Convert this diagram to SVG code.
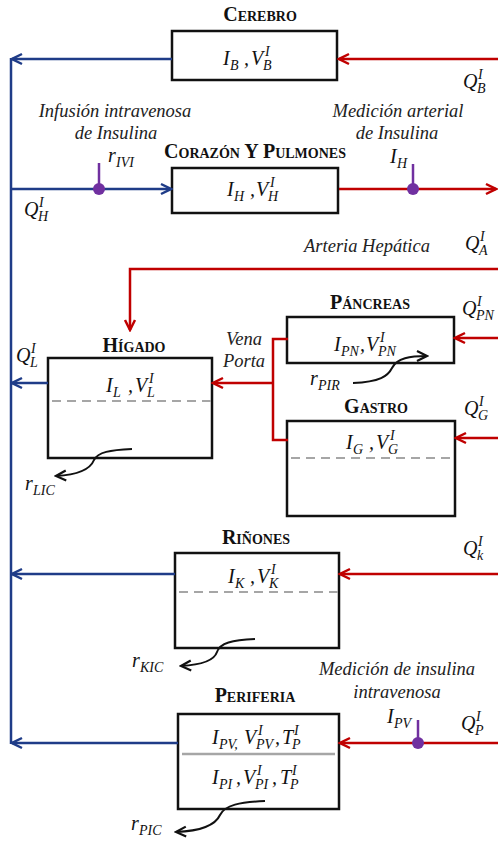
<svg xmlns="http://www.w3.org/2000/svg" width="498" height="843" viewBox="0 0 498 843">
<style>
.t{font-family:"Liberation Serif",serif;font-weight:bold;font-variant:small-caps;font-size:20px;text-anchor:middle;fill:#111}
.l{font-family:"Liberation Serif",serif;font-style:italic;font-size:18.5px;text-anchor:middle;fill:#222}
.m{font-family:"Liberation Serif",serif;font-style:italic;font-size:20px;fill:#111}
.s{font-size:14px}
.box{fill:#fff;stroke:#111;stroke-width:2.5}
.dash{stroke:#A6A6A6;stroke-width:2;stroke-dasharray:9 6;fill:none}
.div{stroke:#A6A6A6;stroke-width:2.5;fill:none}
.bl{stroke:#1F3C88;stroke-width:2.5;fill:none}
.rd{stroke:#C00000;stroke-width:2.5;fill:none}
.bk{stroke:#111;stroke-width:2;fill:none}
.pp{stroke:#7030A0;stroke-width:2.5}
.dot{fill:#7030A0}
</style>
<defs>
<marker id="ab" viewBox="-12 -7 14 14" refX="0" refY="0" markerWidth="14" markerHeight="14" orient="auto" markerUnits="userSpaceOnUse"><path d="M-10,-5 L0,0 L-10,5" fill="none" stroke="#1F3C88" stroke-width="2.5"/></marker>
<marker id="ar" viewBox="-12 -7 14 14" refX="0" refY="0" markerWidth="14" markerHeight="14" orient="auto" markerUnits="userSpaceOnUse"><path d="M-10,-5 L0,0 L-10,5" fill="none" stroke="#C00000" stroke-width="2.5"/></marker>
<marker id="ak" viewBox="-12 -7 14 14" refX="0" refY="0" markerWidth="14" markerHeight="14" orient="auto" markerUnits="userSpaceOnUse"><path d="M-10,-5 L0,0 L-10,5" fill="none" stroke="#111" stroke-width="2.2"/></marker>
</defs>
<rect width="498" height="843" fill="#fff"/>

<g id="cerebro">
<text class="t" x="260" y="21">Cerebro</text>
<rect class="box" x="172" y="31" width="165" height="49"/>
<text class="m"><tspan x="223" y="65">I</tspan><tspan class="s" x="230" y="70">B</tspan><tspan x="244" y="65">,</tspan><tspan x="251" y="65">V</tspan><tspan class="s" x="265" y="56">I</tspan><tspan class="s" x="263" y="70">B</tspan></text>
</g>

<g id="corazon">
<text class="t" x="255" y="158">Corazón Y Pulmones</text>
<rect class="box" x="172" y="168" width="166" height="45"/>
<text class="m"><tspan x="227" y="196">I</tspan><tspan class="s" x="234" y="201">H</tspan><tspan x="250" y="196">,</tspan><tspan x="256" y="196">V</tspan><tspan class="s" x="270" y="187">I</tspan><tspan class="s" x="268" y="201">H</tspan></text>
</g>

<g id="higado">
<text class="t" x="134" y="352">Hígado</text>
<rect class="box" x="48" y="358" width="164" height="100"/>
<line class="dash" x1="52" y1="401" x2="212" y2="401"/>
<text class="m"><tspan x="106" y="392">I</tspan><tspan class="s" x="113" y="397">L</tspan><tspan x="128" y="392">,</tspan><tspan x="135" y="392">V</tspan><tspan class="s" x="149" y="383">I</tspan><tspan class="s" x="147" y="397">L</tspan></text>
</g>

<g id="pancreas">
<text class="t" x="370" y="309">Páncreas</text>
<rect class="box" x="287" y="317" width="167" height="46"/>
<text class="m"><tspan x="334" y="351">I</tspan><tspan class="s" x="341" y="356">PN</tspan><tspan x="360" y="351">,</tspan><tspan x="366" y="351">V</tspan><tspan class="s" x="380" y="342">I</tspan><tspan class="s" x="378" y="356">PN</tspan></text>
</g>

<g id="gastro">
<text class="t" x="376" y="413">Gastro</text>
<rect class="box" x="287" y="421" width="168" height="95"/>
<line class="dash" x1="291" y1="458" x2="455" y2="458"/>
<text class="m"><tspan x="346" y="449">I</tspan><tspan class="s" x="353" y="454">G</tspan><tspan x="369" y="449">,</tspan><tspan x="376" y="449">V</tspan><tspan class="s" x="390" y="440">I</tspan><tspan class="s" x="388" y="454">G</tspan></text>
</g>

<g id="rinones">
<text class="t" x="256" y="544">Riñones</text>
<rect class="box" x="175" y="553" width="164" height="95"/>
<line class="dash" x1="179" y1="592" x2="339" y2="592"/>
<text class="m"><tspan x="228" y="583">I</tspan><tspan class="s" x="235" y="588">K</tspan><tspan x="250" y="583">,</tspan><tspan x="257" y="583">V</tspan><tspan class="s" x="271" y="574">I</tspan><tspan class="s" x="269" y="588">K</tspan></text>
</g>

<g id="periferia">
<text class="t" x="255" y="702">Periferia</text>
<rect class="box" x="178" y="714" width="161" height="95"/>
<line class="div" x1="182" y1="754" x2="335" y2="754"/>
<text class="m"><tspan x="212" y="744">I</tspan><tspan class="s" x="219" y="749">PV,</tspan><tspan x="244" y="744">V</tspan><tspan class="s" x="258" y="735">I</tspan><tspan class="s" x="256" y="749">PV</tspan><tspan x="275" y="744">,</tspan><tspan x="282" y="744">T</tspan><tspan class="s" x="294" y="735">I</tspan><tspan class="s" x="292" y="749">P</tspan></text>
<text class="m"><tspan x="212" y="784">I</tspan><tspan class="s" x="219" y="789">PI</tspan><tspan x="236" y="784">,</tspan><tspan x="243" y="784">V</tspan><tspan class="s" x="257" y="775">I</tspan><tspan class="s" x="255" y="789">PI</tspan><tspan x="272" y="784">,</tspan><tspan x="280" y="784">T</tspan><tspan class="s" x="292" y="775">I</tspan><tspan class="s" x="290" y="789">P</tspan></text>
</g>

<g id="connectors">
<path class="bl" d="M11,58 V744"/>
<path class="bl" d="M172,59 H12" marker-end="url(#ab)"/>
<path class="bl" d="M11,189 H171" marker-end="url(#ab)"/>
<path class="bl" d="M48,383 H12" marker-end="url(#ab)"/>
<path class="bl" d="M175,574 H12" marker-end="url(#ab)"/>
<path class="bl" d="M178,743 H12" marker-end="url(#ab)"/>
<path class="rd" d="M498,59 H339" marker-end="url(#ar)"/>
<path class="rd" d="M339,189 H496" marker-end="url(#ar)"/>
<path class="rd" d="M498,269 H130 V330" marker-end="url(#ar)"/>
<path class="rd" d="M498,338 H455" marker-end="url(#ar)"/>
<path class="rd" d="M498,438 H456" marker-end="url(#ar)"/>
<path class="rd" d="M288,339 H273 V440 H288"/>
<path class="rd" d="M273,383 H213" marker-end="url(#ar)"/>
<path class="rd" d="M498,574 H340" marker-end="url(#ar)"/>
<path class="rd" d="M498,743 H340" marker-end="url(#ar)"/>
<path class="bk" d="M353,383 C380,382 388,376 392,368 C397,358 410,356 427,356" marker-end="url(#ak)"/>
<path class="bk" d="M132,449 C110,450 98,452 94,460 C90,470 75,475 56,476" marker-end="url(#ak)"/>
<path class="bk" d="M255,639 C232,640 220,643 217,652 C214,661 200,665 181,666" marker-end="url(#ak)"/>
<path class="bk" d="M265,801 C240,802 225,805 220,815 C215,826 200,831 176,832" marker-end="url(#ak)"/>
<line class="pp" x1="99" y1="163" x2="99" y2="189"/><circle class="dot" cx="99" cy="189" r="6"/>
<line class="pp" x1="413" y1="164" x2="413" y2="189"/><circle class="dot" cx="413" cy="189" r="6"/>
<line class="pp" x1="418" y1="720" x2="418" y2="743"/><circle class="dot" cx="418" cy="743" r="6"/>
</g>

<g id="labels">
<text class="l" x="115" y="117">Infusión intravenosa</text>
<text class="l" x="116" y="139">de Insulina</text>
<text class="l" x="398" y="117">Medición arterial</text>
<text class="l" x="397" y="139">de Insulina</text>
<text class="l" x="367" y="252">Arteria Hepática</text>
<text class="l" x="244" y="345">Vena</text>
<text class="l" x="244" y="367">Porta</text>
<text class="l" x="397" y="675">Medición de insulina</text>
<text class="l" x="397" y="698">intravenosa</text>
<text class="m"><tspan x="463" y="88">Q</tspan><tspan class="s" x="478" y="79">I</tspan><tspan class="s" x="477" y="93">B</tspan></text>
<text class="m"><tspan x="24" y="216">Q</tspan><tspan class="s" x="39" y="207">I</tspan><tspan class="s" x="38" y="221">H</tspan></text>
<text class="m"><tspan x="108" y="162">r</tspan><tspan class="s" x="116" y="167">IVI</tspan></text>
<text class="m"><tspan x="390" y="163">I</tspan><tspan class="s" x="397" y="168">H</tspan></text>
<text class="m"><tspan x="465" y="250">Q</tspan><tspan class="s" x="480" y="241">I</tspan><tspan class="s" x="479" y="255">A</tspan></text>
<text class="m"><tspan x="462" y="315">Q</tspan><tspan class="s" x="477" y="306">I</tspan><tspan class="s" x="476" y="320">PN</tspan></text>
<text class="m"><tspan x="16" y="362">Q</tspan><tspan class="s" x="31" y="353">I</tspan><tspan class="s" x="30" y="367">L</tspan></text>
<text class="m"><tspan x="464" y="415">Q</tspan><tspan class="s" x="479" y="406">I</tspan><tspan class="s" x="478" y="420">G</tspan></text>
<text class="m"><tspan x="310" y="385">r</tspan><tspan class="s" x="318" y="390">PIR</tspan></text>
<text class="m"><tspan x="25" y="490">r</tspan><tspan class="s" x="33" y="495">LIC</tspan></text>
<text class="m"><tspan x="463" y="555">Q</tspan><tspan class="s" x="478" y="546">I</tspan><tspan class="s" x="477" y="560">k</tspan></text>
<text class="m"><tspan x="132" y="667">r</tspan><tspan class="s" x="140" y="672">KIC</tspan></text>
<text class="m"><tspan x="461" y="730">Q</tspan><tspan class="s" x="476" y="721">I</tspan><tspan class="s" x="475" y="735">P</tspan></text>
<text class="m"><tspan x="387" y="723">I</tspan><tspan class="s" x="394" y="728">PV</tspan></text>
<text class="m"><tspan x="131" y="830">r</tspan><tspan class="s" x="139" y="835">PIC</tspan></text>
</g>
</svg>
